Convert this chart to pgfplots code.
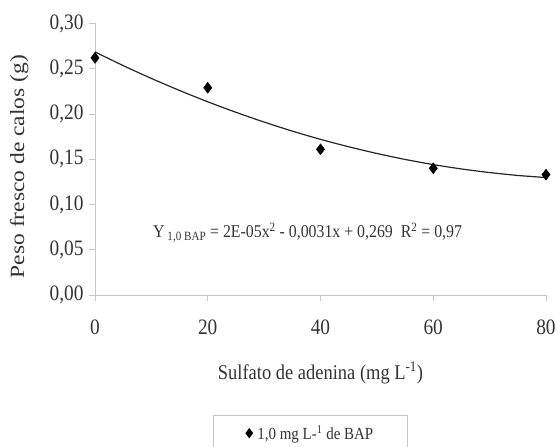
\documentclass[border=0pt]{standalone}
\usepackage{pgfplots}
\pgfplotsset{compat=1.18}
\usepackage{fontspec}
\setmainfont{Liberation Serif}[FakeStretch=0.88]
\newfontfamily\ylabfont{Liberation Serif}
\begin{document}
\begin{tikzpicture}
\begin{axis}[
  at={(0pt,0pt)}, anchor=south west,
  scale only axis, width=451pt, height=271.5pt,
  xmin=0, xmax=80, ymin=0, ymax=0.30,
  axis lines*=left,
  axis line style={draw=black!22, line width=0.8pt},
  tick style={draw=black!22, line width=0.8pt},
  tick align=outside, major tick length=6pt,
  xtick={0,20,40,60,80},
  ytick={0,0.05,0.10,0.15,0.20,0.25,0.30},
  yticklabels={{0,00},{0,05},{0,10},{0,15},{0,20},{0,25},{0,30}},
  xticklabels={0,20,40,60,80},
  ticklabel style={font=\fontsize{22}{26}\selectfont, text=black!80},
  xticklabel style={yshift=-15pt},
  yticklabel style={xshift=-2pt},
  xlabel={Sulfato de adenina (mg L\textsuperscript{-1})},
  xlabel style={at={(axis description cs:0.5,-0.287)}, anchor=center, font=\fontsize{21}{25}\selectfont, text=black!80},
  ylabel={Peso fresco de calos (g)},
  ylabel style={at={(axis description cs:-0.168,0.473)}, anchor=center, yscale=0.86, font=\ylabfont\fontsize{23.5}{26}\selectfont, text=black!80},
  legend style={at={(axis description cs:0.478,-0.442)}, anchor=north, draw=black!22, line width=0.8pt,
    font=\fontsize{17}{21}\selectfont, text=black!80, inner xsep=32pt, inner ysep=8pt},
  legend image post style={mark size=4.5pt},
  legend cell align=left,
  clip=false,
]
\addplot[forget plot, black!85, line width=1.2pt, smooth] coordinates {
(0,0.2686) (5,0.2535) (10,0.2393) (15,0.2260) (20,0.2135) (25,0.2019)
(30,0.1911) (35,0.1811) (40,0.1720) (45,0.1638) (50,0.1564) (55,0.1498)
(60,0.1441) (65,0.1393) (70,0.1353) (75,0.1321) (80,0.1298)};
\addplot[only marks, mark=diamond*, mark size=5.5pt, black, mark options={fill=black}] coordinates {
(0,0.262) (20,0.229) (40,0.161) (60,0.140) (80,0.133)};
\addlegendentry{\,1,0 mg L-\textsuperscript{1} de BAP}
\node[font=\fontsize{18}{22}\selectfont, text=black!80] at (axis cs:37.7,0.069)
  {Y\,\textsubscript{1,0 BAP} = 2E-05x\textsuperscript{2} - 0,0031x + 0,269\ \ R\textsuperscript{2} = 0,97};
\end{axis}
\pgfresetboundingbox
\path[use as bounding box] (-95pt,-152pt) rectangle (463pt,295pt);
\end{tikzpicture}
\end{document}
